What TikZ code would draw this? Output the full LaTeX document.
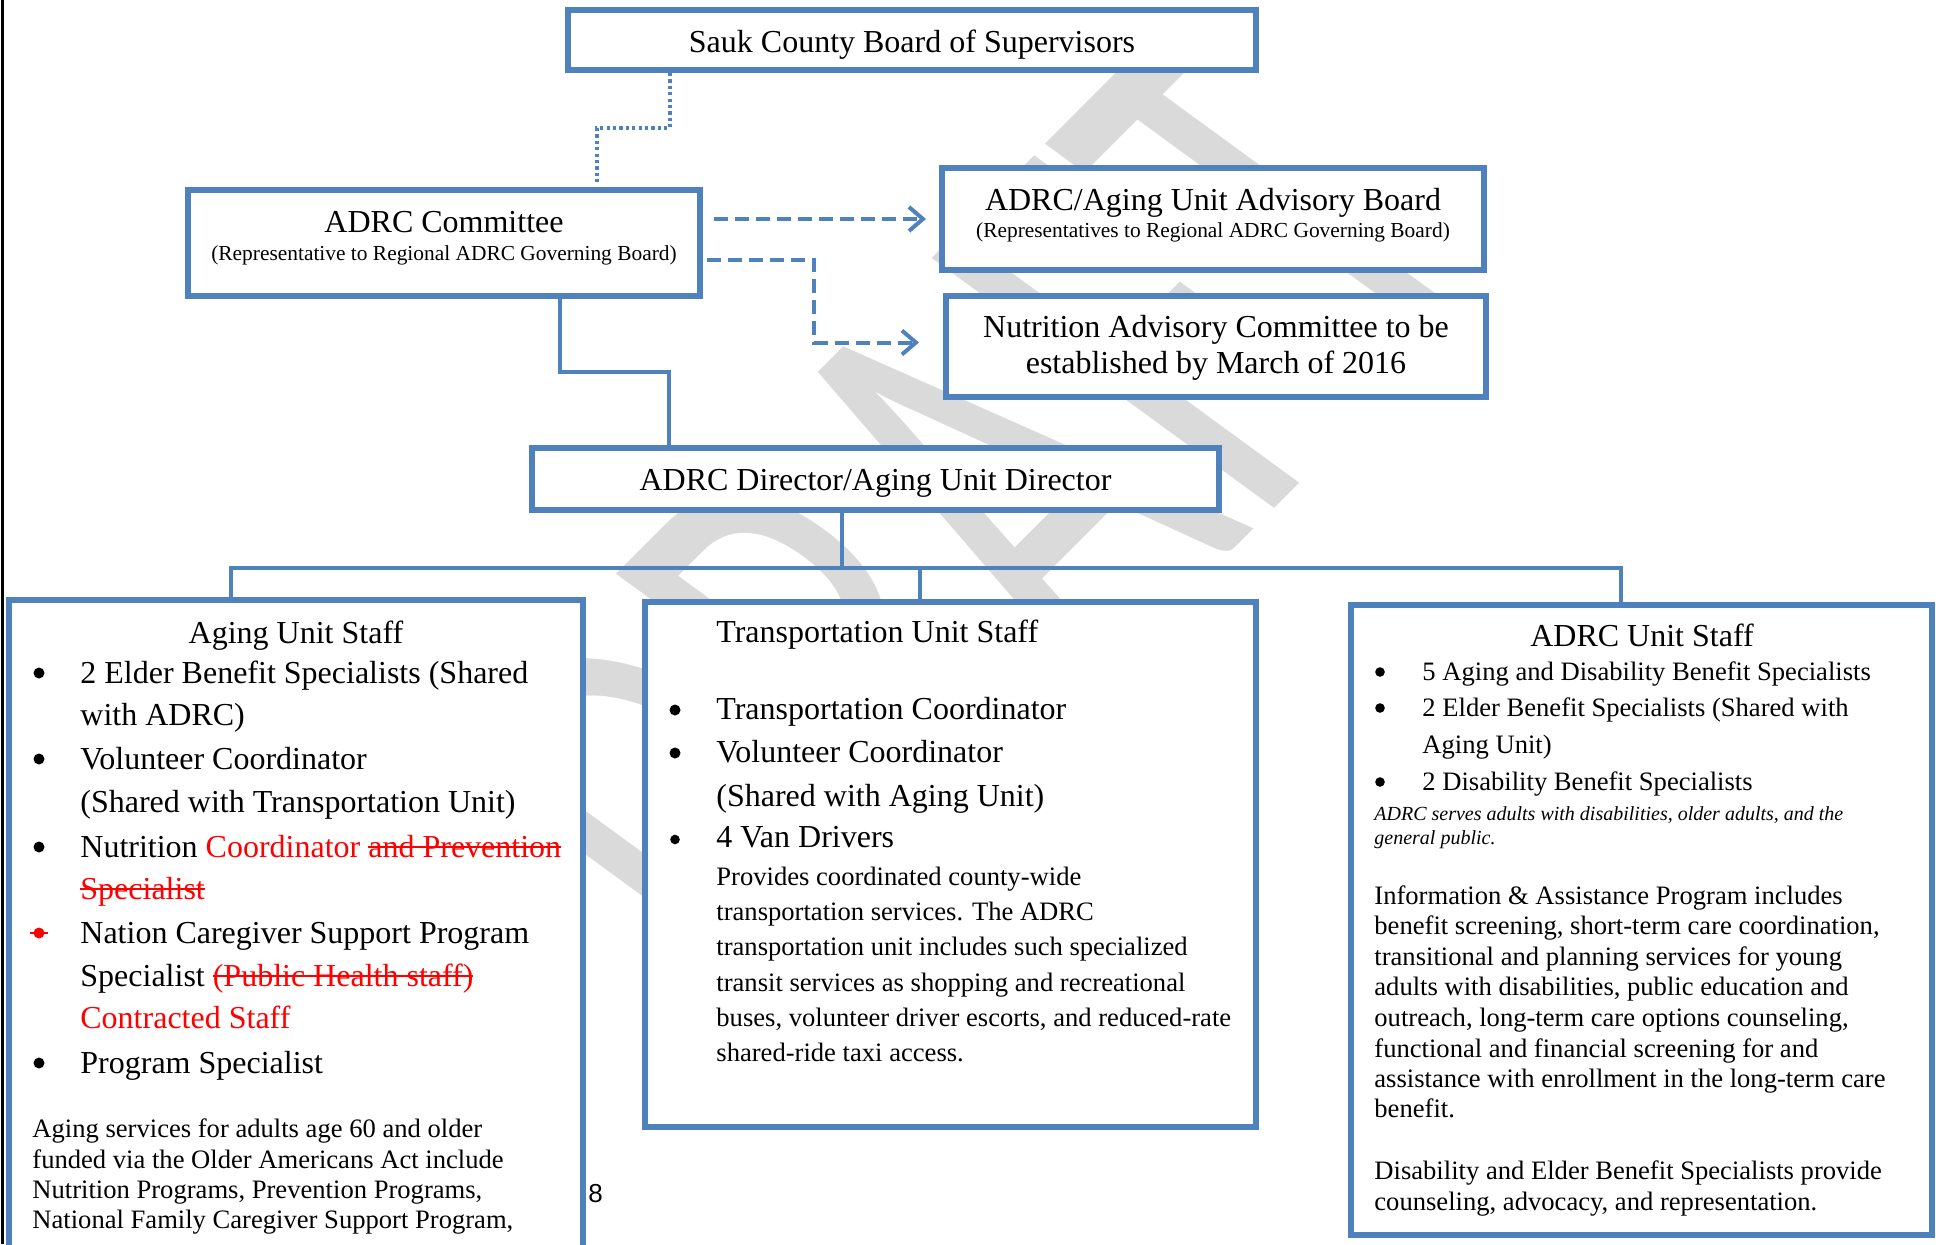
\documentclass[tikz,border=0pt]{standalone}
\usepackage{fontspec}
\setmainfont{Liberation Serif}
\newfontfamily\pagenofont{Liberation Sans}
\newfontfamily\wmfont{Carlito}
\usetikzlibrary{arrows.meta}

\definecolor{boxblue}{RGB}{79,129,189}
\definecolor{wmgray}{RGB}{218,218,218}

% struck-out text
\newsavebox{\strkbox}
\newcommand{\strk}[1]{\sbox{\strkbox}{#1}\rlap{\rule[0.27em]{\wd\strkbox}{0.065em}}\usebox{\strkbox}}

\tikzset{
  box/.style={draw=boxblue, line width=3pt, fill=white, inner sep=0pt},
  link/.style={draw=boxblue, line width=2pt},
  dotlink/.style={draw=boxblue, line width=1.75pt, dash pattern=on 1.6pt off 1.6pt},
  dashlink/.style={draw=boxblue, line width=2pt, dash pattern=on 7pt off 3.5pt,
    -{Straight Barb[length=7pt,width=12pt]}},
  dot/.style={circle, fill=black, inner sep=0pt, minimum size=5.5pt},
  smalldot/.style={dot, minimum size=4.8pt},
  big/.style={inner sep=0pt, font=\fontsize{16}{19}\selectfont},
  mid/.style={inner sep=0pt, font=\fontsize{13.3}{15}\selectfont},
  small/.style={inner sep=0pt, font=\fontsize{10.7}{13}\selectfont},
  ln/.style={anchor=base west},
  ctr/.style={anchor=base},
}

\begin{document}
\begin{tikzpicture}[x=0.5pt,y=-0.5pt]
\useasboundingbox (0,0) rectangle (1936,1244);
\clip (0,0) rectangle (1936,1244);
\fill[white] (0,0) rectangle (1936,1244);
%watermark
\node[anchor=base west, transform shape, xscale=1.17, rotate=49.5, xscale=0.62,
  text=wmgray, inner sep=0pt, font=\wmfont\fontsize{300}{300}\selectfont] (wm) at (764,1019) {DRAFT};
%page edge
\draw[line width=1.5pt] (2,0) -- (2,1244);

%boxes
\node[box, minimum width=344pt, minimum height=30pt] (sauk) at (912,40) {};
\node[box, minimum width=256pt, minimum height=53pt] (cmte) at (444,243) {};
\node[box, minimum width=271pt, minimum height=51pt] (advb) at (1213,219) {};
\node[box, minimum width=270pt, minimum height=50.5pt] (nutr) at (1216,346.5) {};
\node[box, minimum width=343.5pt, minimum height=31pt] (dir) at (875.5,479) {};
\node[box, minimum width=287pt, minimum height=340pt] (aging) at (296,940) {};
\node[box, minimum width=305.5pt, minimum height=262.5pt] (trans) at (950.5,864.5) {};
\node[box, minimum width=290.5pt, minimum height=315pt] (adrc) at (1641.5,920) {};

%connectors
\coordinate (dotbend) at (670,128);
\coordinate (dotend) at (597,182);
\draw[dotlink] (sauk.south -| dotbend) -- (dotbend) -| (dotend);
\draw[dashlink] ([xshift=5.5pt]cmte.east |- advb.west) -- ([xshift=-6.5pt]advb.west);
\coordinate (bend) at (814,260);
\draw[dashlink] ([xshift=2pt]cmte.east |- bend) -- (bend) |- ([xshift=-12pt,yshift=2pt]nutr.west);
\coordinate (cd1) at (560,372);
\coordinate (cd2) at (669,372);
\draw[link] (cmte.south -| cd1) -- (cd1) -- (cd2) -- (dir.north -| cd2);
\coordinate (busl) at (231,568);
\coordinate (busm) at (842,568);
\coordinate (bust) at (920,568);
\coordinate (busr) at (1621,568);
\draw[link] (dir.south -| busm) -- (busm);
\draw[link] (aging.north -| busl) -- (busl) -- (busr) -- (adrc.north -| busr);
\draw[link] (bust) -- (trans.north -| bust);

%top boxes text
\node[big, ctr] (sauktxt) at (912,52) {Sauk County Board of Supervisors};
\node[big, ctr] (cmtetxt) at (444,232) {ADRC Committee};
\node[small, ctr] (cmtesub) at (444,260) {(Representative to Regional ADRC Governing Board)};
\node[big, ctr] (advbtxt) at (1213,210) {ADRC/Aging Unit Advisory Board};
\node[small, ctr] (advbsub) at (1213,237) {(Representatives to Regional ADRC Governing Board)};
\node[big, ctr] (nutr1) at (1216,337) {Nutrition Advisory Committee to be};
\node[big, ctr] (nutr2) at (1216,373) {established by March of 2016};
\node[big, ctr] (dirtxt) at (875.5,490) {ADRC Director/Aging Unit Director};

%aging unit staff
\node[big, ctr] (agtitle) at (296,643) {Aging Unit Staff};
\node[dot] (agb1) at (39,673) {};
\node[dot] (agb2) at (39,759) {};
\node[dot] (agb3) at (39,847) {};
\node[dot, fill=red] (agb4) at (39,933) {};
\draw[red, line width=1pt] ([xshift=-1.5pt]agb4.west) -- ([xshift=1.5pt]agb4.east);
\node[dot] (agb5) at (39,1063) {};
\node[big, ln] (ag1) at (80,683) {2 Elder Benefit Specialists (Shared};
\node[big, ln] (ag2) at (80,725) {with ADRC)};
\node[big, ln] (ag3) at (80,769) {Volunteer Coordinator};
\node[big, ln] (ag4) at (80,812) {(Shared with Transportation Unit)};
\node[big, ln] (ag5) at (80,857) {Nutrition \textcolor{red}{Coordinator \strk{and Prevention}}};
\node[big, ln, text=red] (ag6) at (80,899) {\strk{Specialist}};
\node[big, ln] (ag7) at (80,943) {Nation Caregiver Support Program};
\node[big, ln] (ag8) at (80,986) {Specialist \textcolor{red}{\strk{(Public Health staff)}}};
\node[big, ln, text=red] (ag9) at (80,1028) {Contracted Staff};
\node[big, ln] (ag10) at (80,1073) {Program Specialist};
\node[mid, ln] (agp1) at (32,1137) {Aging services for adults age 60 and older};
\node[mid, ln] (agp2) at (32,1168) {funded via the Older Americans Act include};
\node[mid, ln] (agp3) at (32,1198) {Nutrition Programs, Prevention Programs,};
\node[mid, ln] (agp4) at (32,1228) {National Family Caregiver Support Program,};
\node[ln, inner sep=0pt, font=\pagenofont\fontsize{13}{15}\selectfont] (pageno) at (588,1202) {8};

%transportation unit staff
\node[big, ln] (trtitle) at (716,642) {Transportation Unit Staff};
\node[dot] (trb1) at (675,710) {};
\node[dot] (trb2) at (675,753) {};
\node[smalldot] (trb3) at (675,839.5) {};
\node[big, ln] (tr1) at (716,719) {Transportation Coordinator};
\node[big, ln] (tr2) at (716,762) {Volunteer Coordinator};
\node[big, ln] (tr3) at (716,806) {(Shared with Aging Unit)};
\node[big, ln] (tr4) at (716,847) {4 Van Drivers};
\node[mid, ln] (trp1) at (716,885) {Provides coordinated county-wide};
\node[mid, ln] (trp2) at (716,920) {transportation services. The ADRC};
\node[mid, ln] (trp3) at (716,955) {transportation unit includes such specialized};
\node[mid, ln] (trp4) at (716,991) {transit services as shopping and recreational};
\node[mid, ln] (trp5) at (716,1026) {buses, volunteer driver escorts, and reduced-rate};
\node[mid, ln] (trp6) at (716,1061) {shared-ride taxi access.};

%adrc unit staff
\node[big, ctr] (adtitle) at (1642,646) {ADRC Unit Staff};
\node[smalldot] (adb1) at (1380,672) {};
\node[smalldot] (adb2) at (1380,708) {};
\node[smalldot] (adb3) at (1380,782) {};
\node[mid, ln] (ad1) at (1422,680) {5 Aging and Disability Benefit Specialists};
\node[mid, ln] (ad2) at (1422,716) {2 Elder Benefit Specialists (Shared with};
\node[mid, ln] (ad3) at (1422,753) {Aging Unit)};
\node[mid, ln] (ad4) at (1422,790) {2 Disability Benefit Specialists};
\node[small, ln, font=\itshape] (adn1) at (1374,820) {ADRC serves adults with disabilities, older adults, and the};
\node[small, ln, font=\itshape] (adn2) at (1374,844) {general public.};
\node[mid, ln] (adp1) at (1374,904) {Information \& Assistance Program includes};
\node[mid, ln] (adp2) at (1374,934) {benefit screening, short-term care coordination,};
\node[mid, ln] (adp3) at (1374,965) {transitional and planning services for young};
\node[mid, ln] (adp4) at (1374,995) {adults with disabilities, public education and};
\node[mid, ln] (adp5) at (1374,1026) {outreach, long-term care options counseling,};
\node[mid, ln] (adp6) at (1374,1057) {functional and financial screening for and};
\node[mid, ln] (adp7) at (1374,1087) {assistance with enrollment in the long-term care};
\node[mid, ln] (adp8) at (1374,1117) {benefit.};
\node[mid, ln] (adp9) at (1374,1179) {Disability and Elder Benefit Specialists provide};
\node[mid, ln] (adp10) at (1374,1210) {counseling, advocacy, and representation.};
\end{tikzpicture}
\end{document}
